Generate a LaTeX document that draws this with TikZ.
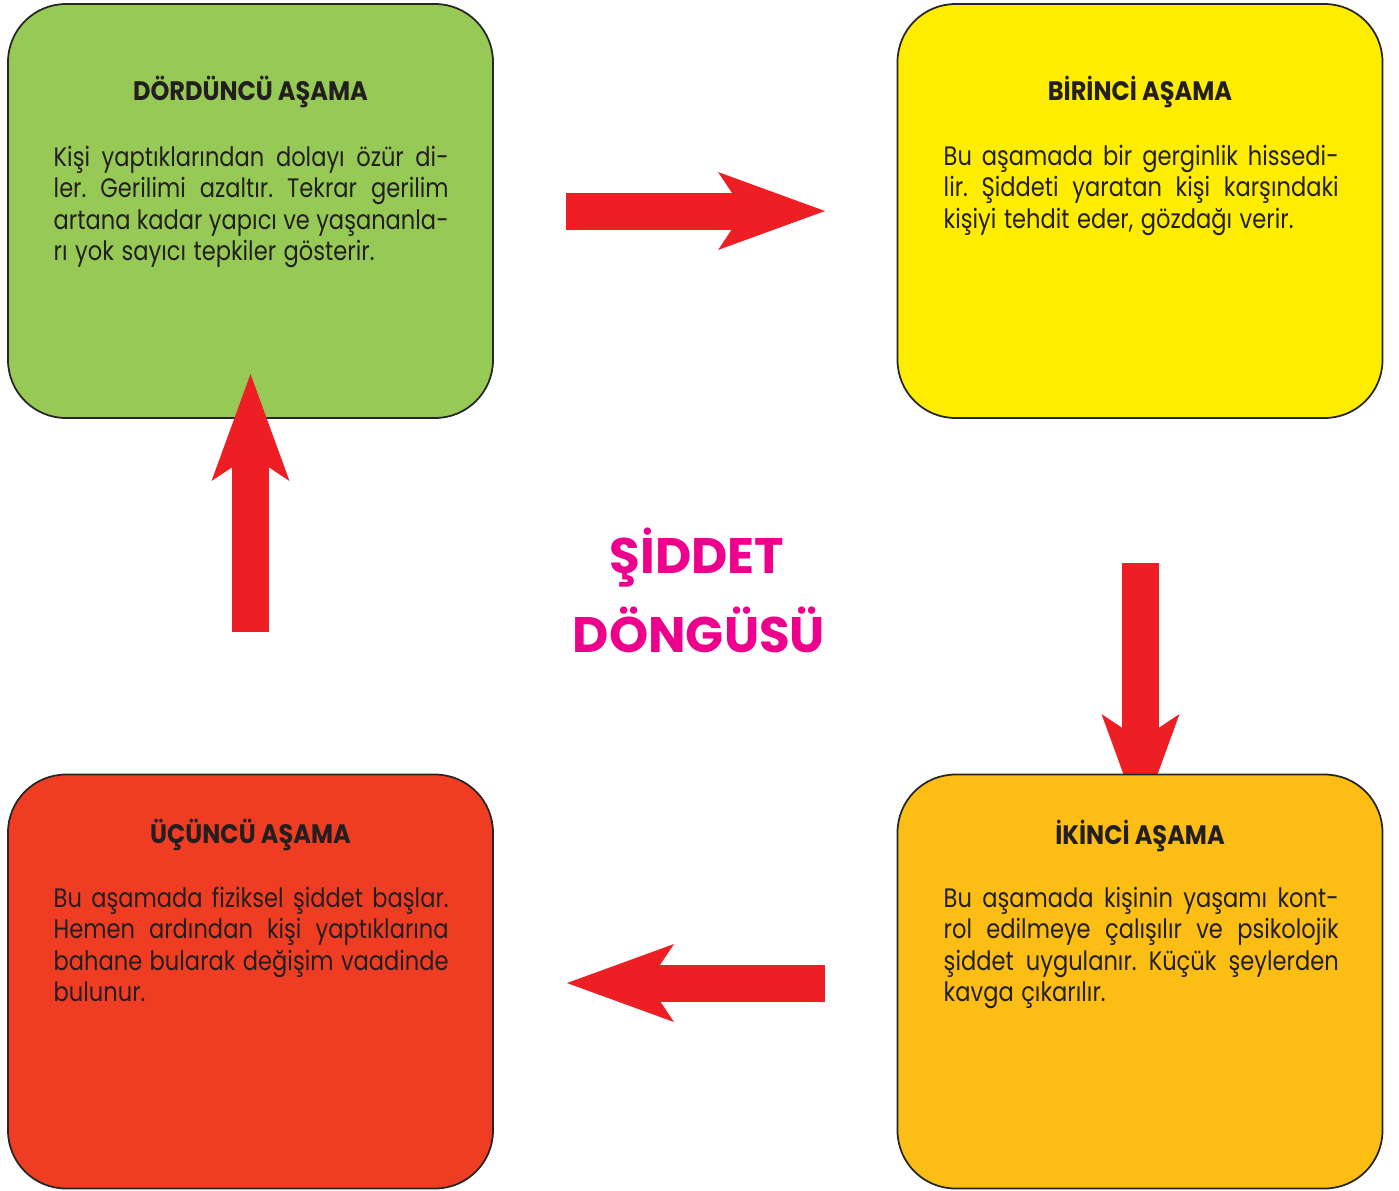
\documentclass[tikz,border=0pt]{standalone}
\usepackage{fontspec}
\setmainfont{Poppins}
\newfontfamily\headfont{Poppins}[FakeStretch=0.9]
\newfontfamily\titlefont{Poppins}
\newfontfamily\bodyfont{Poppins}[FakeStretch=0.845,WordSpace=1.25]
\usetikzlibrary{arrows.meta}
\definecolor{stageGreen}{HTML}{96C955}
\definecolor{stageYellow}{HTML}{FFED00}
\definecolor{stageOrange}{HTML}{FCBE14}
\definecolor{stageRed}{HTML}{EF3D24}
\definecolor{arrowRed}{HTML}{ED1F24}
\definecolor{titlePink}{HTML}{EC008C}
\definecolor{ink}{HTML}{231F20}
\frenchspacing
\newcommand{\jl}[1]{\makebox[\linewidth][s]{#1}\\}
\newcommand{\stagebody}[1]{\parbox[t]{39.5mm}{#1}}

\begin{document}
\begin{tikzpicture}[x=0.1mm,y=-0.1mm,
  stage/.style={draw=black!85,line width=0.5pt,rounded corners=5.8mm,
    minimum width=48.5mm,minimum height=41.4mm,inner sep=0pt},
  stagehead/.style={anchor=base,inner sep=0pt,text=ink,
    font=\headfont\bfseries\fontsize{7.6}{9}\selectfont},
  stagetext/.style={anchor=base west,inner sep=0pt,text=ink,
    font=\bodyfont\fontsize{7.6}{9}\selectfont},
  cycletitle/.style={anchor=base,inner sep=0pt,text=titlePink,
    font=\titlefont\bfseries\fontsize{14.2}{17}\selectfont},
  bigarrow/.style={line width=3.7mm,draw=arrowRed,
    -{Stealth[length=10.7mm,width=7.8mm,inset=2.6mm,line width=0pt]}}]
  \useasboundingbox (0,0) rectangle (1399,1190);

  \coordinate (dA) at (1140.5,563);
  \coordinate (dB) at (1140.5,821);
  \draw[bigarrow] (dA) -- (dB);

  \node[stage,fill=stageGreen] (dord) at (250.5,211) {};
  \node[stage,fill=stageYellow] (bir) at (1140,211) {};
  \node[stage,fill=stageRed] (uc) at (250.5,981.5) {};
  \node[stage,fill=stageOrange] (iki) at (1140,981.5) {};

  \coordinate (uA) at (250.5,632);
  \coordinate (uB) at (250.5,374);
  \coordinate (rA) at (566,211);
  \coordinate (rB) at (825,211);
  \coordinate (lA) at (825,983);
  \coordinate (lB) at (567,983);
  \draw[bigarrow] (uA) -- (uB);
  \draw[bigarrow] (rA) -- (rB);
  \draw[bigarrow] (lA) -- (lB);

  \node[stagehead] (dordH) at (250.5,100) {DÖRDÜNCÜ AŞAMA};
  \node[stagetext] (dordT) at (53,166) {\stagebody{%
    \jl{Kişi yaptıklarından dolayı özür di-}
    \jl{ler. Gerilimi azaltır. Tekrar gerilim}
    \jl{artana kadar yapıcı ve yaşananla-}
    rı yok sayıcı tepkiler gösterir.}};

  \node[stagehead] (birH) at (1140,100) {BİRİNCİ AŞAMA};
  \node[stagetext] (birT) at (943,165) {\stagebody{%
    \jl{Bu aşamada bir gerginlik hissedi-}
    \jl{lir. Şiddeti yaratan kişi karşındaki}
    kişiyi tehdit eder, gözdağı verir.}};

  \node[stagehead] (ucH) at (250.5,843) {ÜÇÜNCÜ AŞAMA};
  \node[stagetext] (ucT) at (53,907) {\stagebody{%
    \jl{Bu aşamada fiziksel şiddet başlar.}
    \jl{Hemen ardından kişi yaptıklarına}
    \jl{bahane bularak değişim vaadinde}
    bulunur.}};

  \node[stagehead] (ikiH) at (1140,844) {İKİNCİ AŞAMA};
  \node[stagetext] (ikiT) at (943,907) {\stagebody{%
    \jl{Bu aşamada kişinin yaşamı kont-}
    \jl{rol edilmeye çalışılır ve psikolojik}
    \jl{şiddet uygulanır. Küçük şeylerden}
    kavga çıkarılır.}};

  \node[cycletitle] (siddet) at (697,573) {ŞİDDET};
  \node[cycletitle] (dongu) at (699,652) {DÖNGÜSÜ};
\end{tikzpicture}
\end{document}
